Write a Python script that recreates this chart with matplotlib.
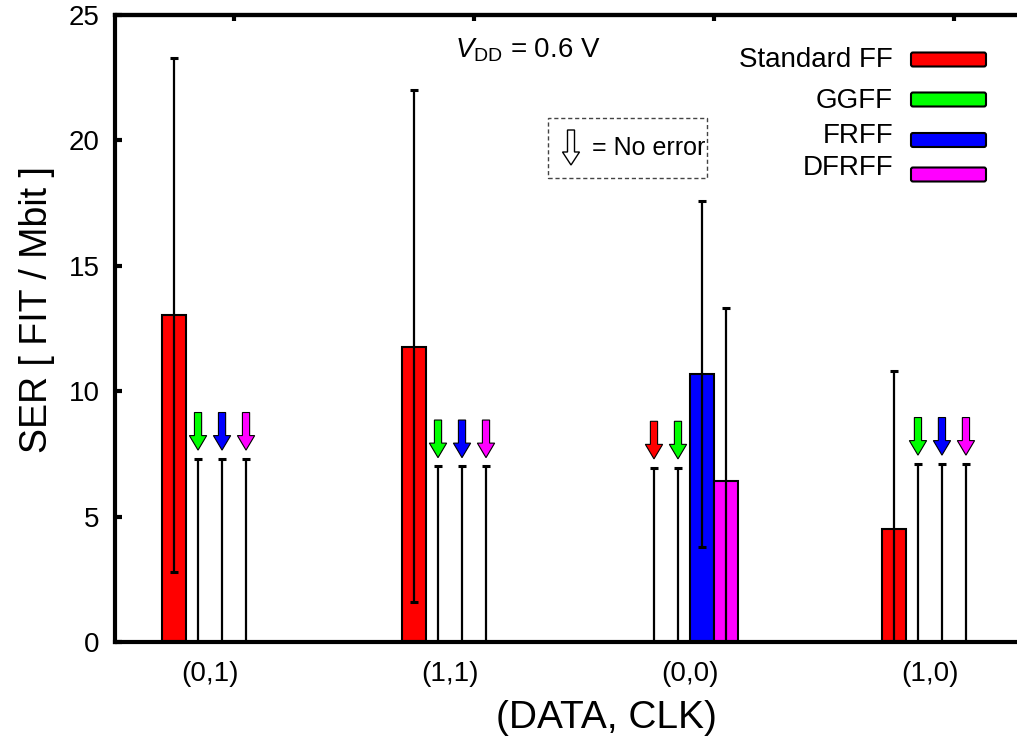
import numpy as np
import matplotlib
matplotlib.use("Agg")
import matplotlib.pyplot as plt
from matplotlib.patches import FancyArrow, FancyBboxPatch, Rectangle
from matplotlib.transforms import IdentityTransform

plt.rcParams["font.family"] = ["Liberation Sans", "DejaVu Sans"]
plt.rcParams["mathtext.fontset"] = "custom"
plt.rcParams["mathtext.rm"] = "Liberation Sans"
plt.rcParams["mathtext.it"] = "Liberation Sans:italic"

# ---- data -------------------------------------------------------------
conditions = ["(0,1)", "(1,1)", "(0,0)", "(1,0)"]
designs = ["Standard FF", "GGFF", "FRFF", "DFRFF"]
colors = ["#ff0000", "#00ff00", "#0000ff", "#ff00ff"]

nan = np.nan
# soft error rate [FIT/Mbit]; NaN = no error observed
ser_std = [13.05, 11.78, nan, 4.50]
ser_ggff = [nan, nan, nan, nan]
ser_frff = [nan, nan, 10.70, nan]
ser_dfrff = [nan, nan, 6.40, nan]

# confidence bounds of measured rates
lo_std = [2.8, 1.6, nan, 0.0]
hi_std = [23.3, 22.0, nan, 10.8]
lo_ggff = [nan, nan, nan, nan]
hi_ggff = [nan, nan, nan, nan]
lo_frff = [nan, nan, 3.8, nan]
hi_frff = [nan, nan, 17.6, nan]
lo_dfrff = [nan, nan, 0.0, nan]
hi_dfrff = [nan, nan, 13.3, nan]

# upper bound when no error was observed
no_error_limit = [7.3, 7.0, 6.95, 7.1]

ser = [ser_std, ser_ggff, ser_frff, ser_dfrff]
lo = [lo_std, lo_ggff, lo_frff, lo_dfrff]
hi = [hi_std, hi_ggff, hi_frff, hi_dfrff]

# ---- figure -----------------------------------------------------------
W, H = 1017, 746
fig = plt.figure(figsize=(W / 100, H / 100), dpi=100)


def fx(px):
    return px / W


def fy(py):
    return 1 - py / H


ax = fig.add_axes([fx(115), fy(642), (1025 - 115) / W, (642 - 15) / H])

bar_w = 0.1
offsets = [-0.15, -0.05, 0.05, 0.15]
x = np.arange(len(conditions))

for i, (vals, l, h, c) in enumerate(zip(ser, lo, hi, colors)):
    for j in range(len(conditions)):
        xp = x[j] + offsets[i]
        v = vals[j]
        if not np.isnan(v):
            ax.bar(xp, v, width=bar_w, color=c, edgecolor="black",
                   linewidth=1.5, zorder=2)
            ax.errorbar(xp, v, yerr=[[v - l[j]], [h[j] - v]], fmt="none",
                        ecolor="black", elinewidth=1.6, capsize=3,
                        capthick=2.2, zorder=4)
        else:
            lim = no_error_limit[j]
            ax.plot([xp, xp], [0, lim], color="black", lw=1.6, zorder=3,
                    solid_capstyle="butt")
            ax.plot([xp], [lim], marker="_", ms=6, mew=2.2, color="black",
                    zorder=3)
            tip = lim + 0.35
            length = 1.5
            ax.add_patch(FancyArrow(xp, tip + length, 0, -length,
                                    width=0.03, head_width=0.072,
                                    head_length=0.58,
                                    length_includes_head=True,
                                    facecolor=c, edgecolor="black",
                                    linewidth=0.8, zorder=3))

ax.set_xlim(-0.396, 3.396)
ax.set_ylim(0, 25)
ax.set_yticks([0, 5, 10, 15, 20, 25])
ax.set_xticks(x)
ax.set_xticklabels(conditions)
ax.tick_params(axis="y", direction="in", length=5, width=3, labelsize=20,
               pad=11)
ax.tick_params(axis="x", length=0, labelsize=20, pad=14)

for side in ["left", "bottom", "top"]:
    ax.spines[side].set_linewidth(3)
ax.spines["right"].set_visible(False)

top = ax.secondary_xaxis("top")
top.set_xticks(x + 0.1)
top.set_xticklabels([])
top.tick_params(direction="in", length=4.5, width=3)
top.spines["top"].set_linewidth(3)

ax.set_ylabel("SER [ FIT / Mbit ]", fontsize=27)
ax.yaxis.set_label_coords(-0.066, 0.53)
ax.set_xlabel("(DATA, CLK)", fontsize=28)
ax.xaxis.set_label_coords(0.54, -0.093)

# supply voltage note
fig.text(fx(455), fy(50), r"$V_{\rm DD}$ = 0.6 V", fontsize=20,
         ha="left", va="center")

# legend with swatches to the right of the names
legend_rows = [(60, 59.5), (101, 99.5), (136, 140), (168, 174.5)]
for name, c, (ty, py) in zip(designs, colors, legend_rows):
    fig.text(fx(893), fy(ty), name, fontsize=20, ha="right", va="center")
    fig.add_artist(FancyBboxPatch((911, H - py - 7), 75, 14,
                                  boxstyle="round,pad=0,rounding_size=2",
                                  facecolor=c, edgecolor="black",
                                  linewidth=1.5, transform=IdentityTransform()))

# key for the no-error arrows
fig.add_artist(Rectangle((548, H - 178), 159, 60, fill=False,
                         edgecolor="#444444", linewidth=1.0,
                         linestyle=(0, (3, 2)),
                         transform=IdentityTransform()))
fig.add_artist(FancyArrow(571, H - 130, 0, -35, width=7, head_width=17,
                          head_length=13, length_includes_head=True,
                          facecolor="white", edgecolor="black",
                          linewidth=1.0, transform=IdentityTransform()))
fig.text(fx(592), fy(148), "= No error", fontsize=18, ha="left",
         va="center")

fig.savefig("out.png", dpi=100)
